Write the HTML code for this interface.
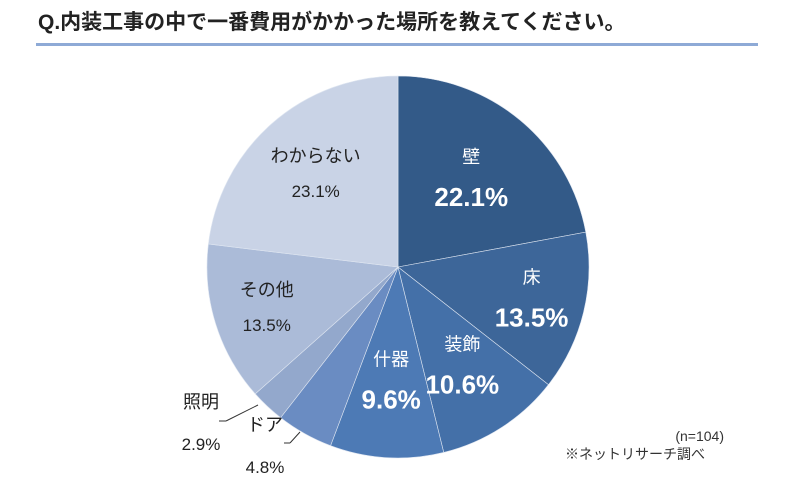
<!DOCTYPE html>
<html><head><meta charset="utf-8"><style>
body{margin:0;background:#fff;width:800px;height:495px;overflow:hidden;font-family:"Liberation Sans","Noto Sans CJK JP",sans-serif}
</style></head><body>
<svg width="800" height="495" id="chart" style="position:absolute;left:0;top:0">
<text x="38" y="29" font-size="21" font-weight="bold" fill="#222" font-family="Liberation Sans,Noto Sans CJK JP,sans-serif">Q.内装工事の中で一番費用がかかった場所を教えてください。</text>
<rect x="36" y="43" width="722" height="3" fill="#8eaad6"/>
<g id="slices"></g><g id="labels"></g>
<line x1="226" y1="421" x2="258" y2="405" stroke="#333"/>
<line x1="219" y1="421" x2="226" y2="421" stroke="#333"/>
<line x1="290" y1="443" x2="300" y2="432" stroke="#333"/>
<line x1="284" y1="443" x2="290" y2="443" stroke="#333"/>
<text x="724" y="441" font-size="14" fill="#333" text-anchor="end">(n=104)</text>
<text x="565" y="459" font-size="14" fill="#333">※ネットリサーチ調べ</text>
</svg>
<script>
const categories=["壁","床","装飾","什器","ドア","照明","その他","わからない"];
const values=[22.1,13.5,10.6,9.6,4.8,2.9,13.5,23.1];
const colors=["#335a88","#3d6699","#4470a8","#4d7ab5","#6a8cc2","#93a8cc","#abbbd8","#c9d3e6"];
const cx=398,cy=267,R=191;
const total=values.reduce((a,b)=>a+b,0);
const ns="http://www.w3.org/2000/svg";
const sg=document.getElementById('slices'),lg=document.getElementById('labels');
function pt(a,r){return [cx+r*Math.sin(a),cy-r*Math.cos(a)];}
let acc=0;
const inside={0:[0.6,1],1:[0.72,1],2:[0.62,1],3:[0.6,1],6:[0.72,0],7:[0.65,0]};
values.forEach((v,i)=>{
  const a0=acc/total*2*Math.PI; acc+=v; const a1=acc/total*2*Math.PI;
  const p0=pt(a0,R),p1=pt(a1,R);
  const p=document.createElementNS(ns,'path');
  p.setAttribute('d',`M${cx},${cy}L${p0[0]},${p0[1]}A${R},${R} 0 ${a1-a0>Math.PI?1:0} 1 ${p1[0]},${p1[1]}Z`);
  p.setAttribute('fill',colors[i]);p.setAttribute('stroke','#dfe6f1');p.setAttribute('stroke-width','0.6');
  
  
  sg.appendChild(p);
  const am=(a0+a1)/2;
  let x,y,white,big;
  if(inside[i]){const q=pt(am,R*inside[i][0]);x=q[0];y=q[1];white=inside[i][1];big=white;}
  else if(i===4){x=265;y=443;white=0;big=0;}
  else {x=201;y=420;white=0;big=0;}
  const t1=document.createElementNS(ns,'text');
  t1.setAttribute('x',x);t1.setAttribute('y',y-(big?16:12));t1.setAttribute('text-anchor','middle');
  t1.setAttribute('font-size',big?18:18);t1.setAttribute('fill',white?'#fff':'#222');
  t1.textContent=categories[i];
  
  
  lg.appendChild(t1);
  const t2=document.createElementNS(ns,'text');
  t2.setAttribute('x',x);t2.setAttribute('y',y+(big?27:23)+(i>=4&&i<=5?7:0));t2.setAttribute('text-anchor','middle');
  t2.setAttribute('font-size',big?26:17);t2.setAttribute('fill',white?'#fff':'#222');
  if(big)t2.setAttribute('font-weight','bold');
  t2.textContent=v.toFixed(1)+'%';
  
  
  lg.appendChild(t2);
});
</script>
</body></html>
